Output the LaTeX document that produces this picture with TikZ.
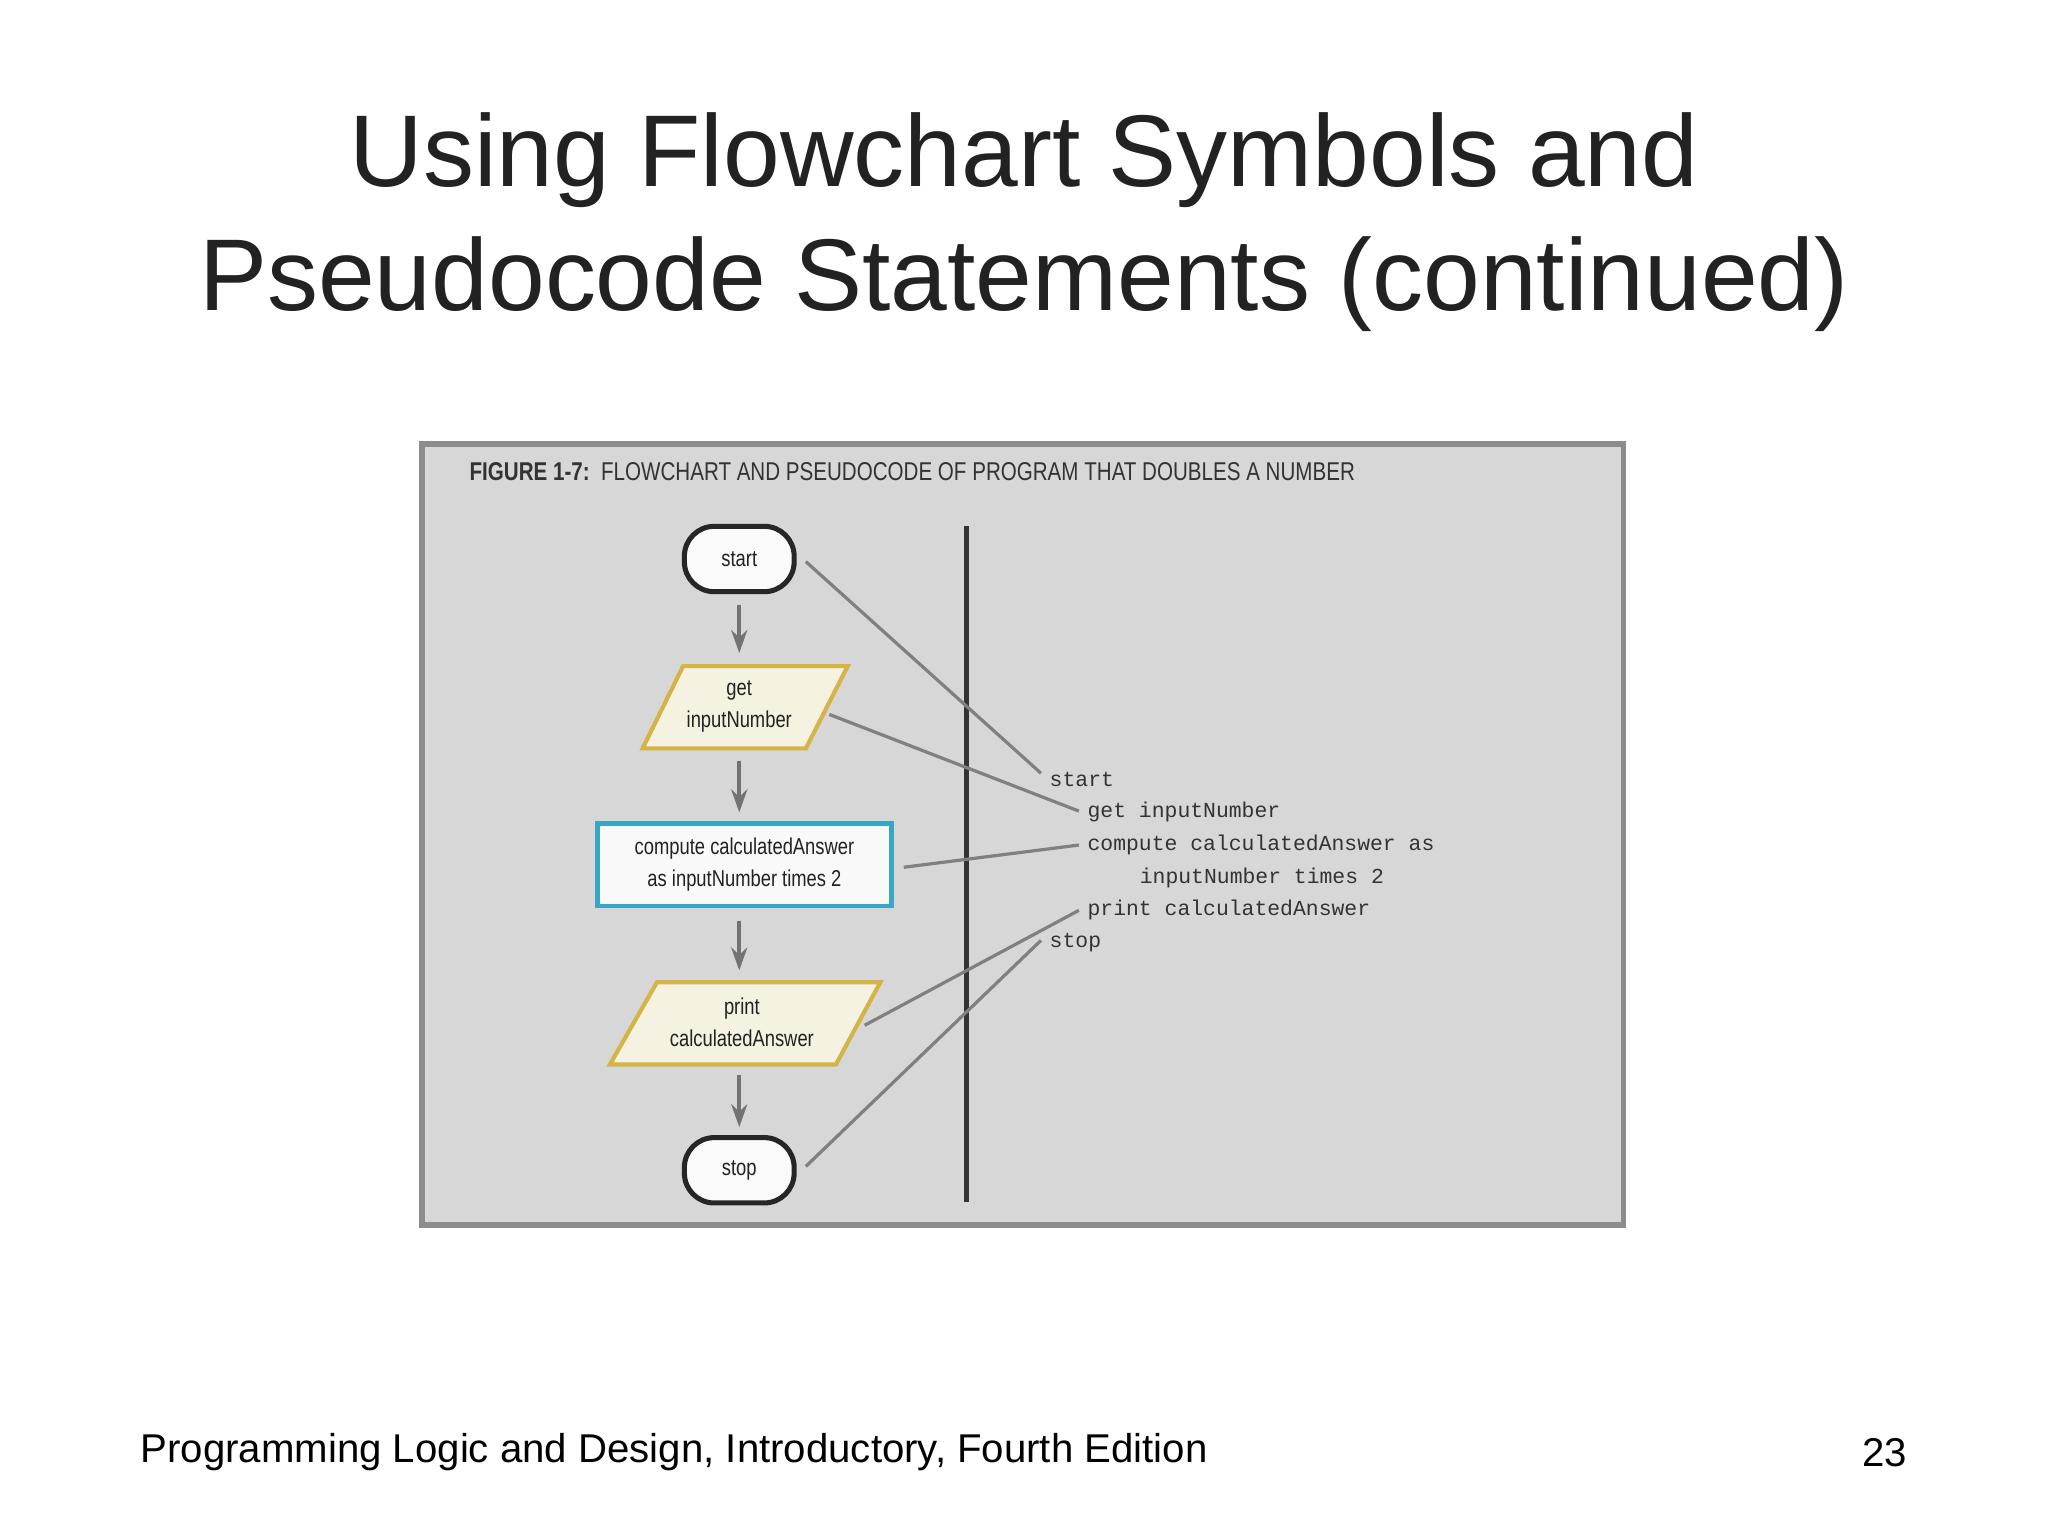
\documentclass[tikz,border=0pt]{standalone}
\usepackage{fontspec}
\setmainfont{Liberation Sans}
\newfontfamily\monof{Liberation Mono}
\usetikzlibrary{arrows.meta}
\definecolor{panel}{HTML}{D8D7D7}
\definecolor{cream}{HTML}{F6F2E2}
\definecolor{gold}{HTML}{D4B347}
\definecolor{cyanb}{HTML}{3AA6C6}
\definecolor{txt}{HTML}{222222}
\tikzset{
 x=0.01cm,y=-0.01cm,
 term/.style={draw=black!85,line width=1.1pt,rounded corners=6.5pt,fill=white!96!gray,minimum width=0.84cm,minimum height=0.5cm,inner sep=0pt},
 iobox/.style={draw=gold,line width=0.9pt,fill=cream},
 proc/.style={draw=cyanb,line width=0.9pt,fill=white!95!gray,minimum width=2.25cm,minimum height=0.63cm,inner sep=0pt,align=center},
 ntext/.style={font=\fontsize{5}{7}\selectfont,xscale=0.8,text=txt,align=center},
 code/.style={anchor=west,inner sep=0pt,font=\monof\fontsize{4.66}{5}\selectfont,text=black!80},
 flow/.style={draw=black!55,line width=0.8pt,-{Stealth[length=5pt,width=3.5pt]}},
 link/.style={draw=black!50,line width=0.7pt},
}
\begin{document}
\begin{tikzpicture}
\useasboundingbox (0,0) rectangle (1568,1176);
\fill[white] (0,0) rectangle (1568,1176);
\node[text=txt,font=\fontsize{22.2}{27}\selectfont,align=center] (title) at (784,170) {Using Flowchart Symbols and\\Pseudocode Statements (continued)};
\node[anchor=west,inner sep=0pt,text=black,font=\fontsize{8.75}{10}\selectfont] (foot) at (107,1112) {Programming Logic and Design, Introductory, Fourth Edition};
\node[anchor=east,inner sep=0pt,text=black,font=\fontsize{8.75}{10}\selectfont] (pg) at (1461,1112) {23};
\draw[draw=black!45,line width=1.2pt,fill=panel] (323,340) rectangle (1243,938);
\node[anchor=west,inner sep=0pt,text=black!80,font=\fontsize{5.6}{6}\selectfont,xscale=0.8] (cap) at (359,361) {\textbf{FIGURE 1-7:}\ \ FLOWCHART AND PSEUDOCODE OF PROGRAM THAT DOUBLES A NUMBER};
\draw[black!80,line width=1pt] (740,403) -- (740,920);
\node[term] (start) at (566,428) {}; \node[ntext] at (start) {start};
\draw[iobox] (523,510) -- (649,510) -- (617,573) -- (492,573) -- cycle;
\node[ntext] (get) at (566,541) {get\\inputNumber};
\node[proc] (comp) at (570,662) {}; \node[ntext] at (comp) {compute calculatedAnswer\\as inputNumber times 2};
\draw[iobox] (503,752) -- (674,752) -- (640,815) -- (467,815) -- cycle;
\node[ntext] (print) at (568,783) {print\\calculatedAnswer};
\node[term] (stop) at (566,896) {}; \node[ntext] at (stop) {stop};
\coordinate (a1) at (566,463); \coordinate (a2) at (566,500);
\coordinate (b1) at (566,583); \coordinate (b2) at (566,622);
\coordinate (c1) at (566,705); \coordinate (c2) at (566,743);
\coordinate (d1) at (566,823); \coordinate (d2) at (566,863);
\draw[flow] (a1)--(a2); \draw[flow] (b1)--(b2); \draw[flow] (c1)--(c2); \draw[flow] (d1)--(d2);
\node[code] (p1) at (803,597) {start};
\node[code] (p2) at (832,622) {get inputNumber};
\node[code] (p3) at (832,647) {compute calculatedAnswer as};
\node[code] (p4) at (872,672) {inputNumber times 2};
\node[code] (p5) at (832,697) {print calculatedAnswer};
\node[code] (p6) at (803,722) {stop};
\coordinate (s1) at (617,430); \coordinate (e1) at (797,592);
\coordinate (s2) at (635,547); \coordinate (e2) at (826,621);
\coordinate (s3) at (692,664); \coordinate (e3) at (826,647);
\coordinate (s4) at (662,785); \coordinate (e4) at (826,697);
\coordinate (s5) at (617,893); \coordinate (e5) at (797,720);
\draw[link] (s1)--(e1); \draw[link] (s2)--(e2); \draw[link] (s3)--(e3);
\draw[link] (s4)--(e4); \draw[link] (s5)--(e5);
\end{tikzpicture}
\end{document}
